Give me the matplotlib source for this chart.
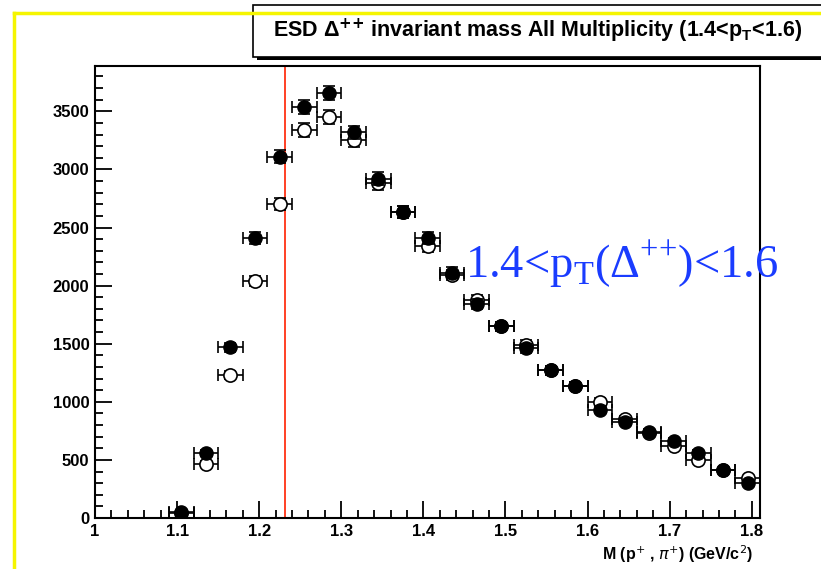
import numpy as np
import matplotlib
matplotlib.use('Agg')
import matplotlib.pyplot as plt
from matplotlib.ticker import MultipleLocator
from matplotlib.patches import Rectangle
from matplotlib.lines import Line2D

# Delta++ invariant mass spectrum, 0.03 GeV/c^2 bins
mass = [1.105, 1.135, 1.165, 1.195, 1.225, 1.255, 1.285, 1.315, 1.345, 1.375,
        1.405, 1.435, 1.465, 1.495, 1.525, 1.555, 1.585, 1.615, 1.645, 1.675,
        1.705, 1.735, 1.765, 1.795]
counts_filled = [50, 560, 1470, 2410, 3110, 3540, 3660, 3320, 2920, 2630,
                 2410, 2110, 1840, 1650, 1460, 1270, 1140, 930, 830, 740,
                 660, 560, 410, 300]
counts_open = [40, 465, 1230, 2040, 2700, 3340, 3450, 3250, 2880, 2630,
               2340, 2090, 1880, 1650, 1490, 1270, 1140, 1000, 850, 730,
               620, 500, 410, 340]
half_bin = 0.015
delta_mass = 1.232

plt.rcParams['font.family'] = ['Liberation Sans', 'DejaVu Sans']

fig = plt.figure(figsize=(8.21, 5.69), dpi=100, facecolor='white')

# yellow outer pad border
fig.add_artist(Line2D([14 / 821, 14 / 821], [0, 1 - 13 / 569], color='#f5f500', lw=2.5))
fig.add_artist(Line2D([14 / 821, 1], [1 - 13 / 569, 1 - 13 / 569], color='#f5f500', lw=2.5))

ax = fig.add_axes([95 / 821, 1 - 518 / 569, 665 / 821, 452 / 569])
ax.set_xlim(1.0, 1.81)
ax.set_ylim(0, 3890)

x = np.array(mass)
yo = np.array(counts_open)
yf = np.array(counts_filled)

ax.errorbar(x, yo, xerr=half_bin, yerr=np.sqrt(yo), fmt='o', ms=9.5,
            mfc='white', mec='black', mew=1.2, ecolor='black', elinewidth=1.2,
            capsize=4, capthick=1.2, zorder=3)
ax.errorbar(x, yf, xerr=half_bin, yerr=np.sqrt(yf), fmt='o', ms=9.5,
            mfc='black', mec='black', ecolor='black', elinewidth=1.2,
            capsize=4, capthick=1.2, zorder=4)

ax.axvline(delta_mass, color='#ff2000', lw=1.2, zorder=2)

ax.xaxis.set_major_locator(MultipleLocator(0.1))
ax.xaxis.set_minor_locator(MultipleLocator(0.02))
ax.yaxis.set_major_locator(MultipleLocator(500))
ax.yaxis.set_minor_locator(MultipleLocator(100))
ax.tick_params(which='both', direction='in', top=False, right=False, width=1.3)
ax.tick_params(which='major', length=12, labelsize=12, pad=4)
ax.tick_params(which='minor', length=6)
ax.set_xticks(np.arange(1.0, 1.81, 0.1))
ax.set_xticklabels(['1', '1.1', '1.2', '1.3', '1.4', '1.5', '1.6', '1.7', '1.8'])
for lab in ax.get_xticklabels() + ax.get_yticklabels():
    lab.set_fontweight('bold')
for s in ax.spines.values():
    s.set_linewidth(1.5)

ax.text(0.99, -0.055, r'M (p$^{+}$ , $\pi^{+}$) (GeV/c$^{2}$)', transform=ax.transAxes,
        ha='right', va='top', fontsize=11.5, fontweight='bold')

ax.text(0.556, 0.533, r'1.4<p$_{\mathregular{T}}$($\mathregular{\Delta}^{\mathregular{{+}{+}}}$)<1.6',
        transform=ax.transAxes, fontsize=33.5, color='#1a3cff', family='Liberation Serif',
        ha='left', va='baseline', zorder=5, clip_on=False)

# title box with drop shadow
fig.add_artist(Rectangle((257 / 821, 1 - 60 / 569), 0.7, 52 / 569, transform=fig.transFigure,
                         facecolor='black', edgecolor='none'))
fig.add_artist(Rectangle((253 / 821, 1 - 57 / 569), 0.7, 52 / 569, transform=fig.transFigure,
                         facecolor='white', edgecolor='black', lw=1.2))
fig.text(538 / 821, 1 - 31 / 569,
         r'ESD $\mathregular{\Delta}^{\mathbf{{+}{+}}}$ invariant mass All Multiplicity (1.4<p$_{\mathregular{T}}$<1.6)',
         ha='center', va='center', fontsize=15.5, fontweight='bold')

fig.savefig('out.png', dpi=100, facecolor='white')
